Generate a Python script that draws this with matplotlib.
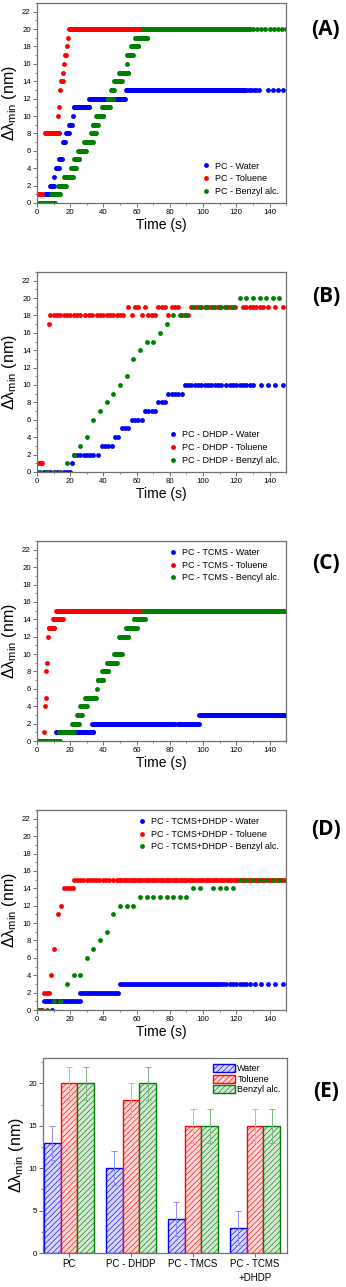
import numpy as np
import matplotlib
matplotlib.use("Agg")
import matplotlib.pyplot as plt
from matplotlib.patches import Patch
from matplotlib.ticker import MultipleLocator

plt.rcParams['font.family'] = ['Liberation Sans', 'DejaVu Sans']
plt.rcParams['mathtext.fontset'] = 'custom'
plt.rcParams['mathtext.rm'] = 'Liberation Sans'
plt.rcParams['hatch.linewidth'] = 0.45

BLUE, RED, GREEN = '#0000ff', '#ff0000', '#008000'

# runs: (t start, t end, sample step, level)
# panel A - PC
water_a = [(0, 4.5, 0.5, 0), (5, 8.5, 0.5, 1), (8, 10, 0.5, 2), (10.5, 10.5, 1, 3),
           (11.5, 13, 0.5, 4), (13.5, 15, 0.5, 5), (15.5, 17, 0.5, 7), (17.5, 19, 0.5, 8),
           (19.5, 21, 0.5, 9), (21.5, 21.5, 1, 10), (22, 31.5, 0.5, 11), (31.5, 53, 0.5, 12),
           (53.5, 126, 0.5, 13), (127.5, 133.5, 1.5, 13), (139, 148, 3, 13)]
toluene_a = [(0.5, 3, 0.5, 1), (5, 13.5, 0.5, 8), (12.8, 12.8, 1, 10), (13.4, 13.4, 1, 11),
             (14, 14, 1, 13), (14.5, 15.5, 0.5, 14), (15.6, 15.6, 1, 15), (16.2, 16.2, 1, 16),
             (16.8, 17.4, 0.5, 17), (18, 18, 1, 18), (18.8, 18.8, 1, 19), (19.5, 64, 0.5, 20)]
benzyl_a = [(0, 11, 0.5, 0), (8.5, 14, 0.5, 1), (12.5, 17.5, 0.5, 2), (16.5, 21.5, 0.5, 3),
            (20.5, 23.5, 0.5, 4), (22.5, 25.5, 0.5, 5), (24.5, 29.5, 0.5, 6), (28.5, 33.5, 0.5, 7),
            (32.5, 35.5, 0.5, 8), (33.5, 36.5, 0.5, 9), (35.5, 40, 0.5, 10), (39, 44, 0.5, 11),
            (42.5, 46, 0.5, 12), (44.5, 46.5, 0.5, 13), (46.5, 51, 0.5, 14), (49.5, 55, 0.5, 15),
            (54, 54, 1, 16), (54, 57.5, 0.5, 17), (56.5, 61, 0.5, 18), (59, 66.5, 0.5, 19),
            (64, 128, 0.5, 20), (130, 149, 2.5, 20)]

# panel B - PC - DHDP
water_b = [(0, 20, 2, 0), (21, 21, 1, 1), (22, 34, 2, 2), (37, 37, 1, 2), (39, 45, 2, 3),
           (47, 49, 2, 4), (51, 55, 2, 5), (57, 63, 2, 6), (65, 71, 2, 7), (73, 77, 2, 8),
           (79, 87, 2, 9), (89, 111, 2, 10), (114, 130, 2, 10), (135, 143, 4, 10), (148, 148, 1, 10)]
toluene_b = [(1, 3, 1, 1), (7, 7, 1, 17), (8, 26, 2, 18), (29, 33, 2, 18), (36, 52, 2, 18),
             (55, 55, 1, 19), (57, 57, 1, 18), (59, 61, 2, 19), (63, 63, 1, 18), (65, 65, 1, 19),
             (67, 71, 2, 18), (73, 77, 2, 19), (79, 79, 1, 18), (81, 85, 2, 19), (87, 91, 2, 18),
             (93, 119, 2, 19), (124, 136, 2, 19), (139, 139, 1, 19), (143.5, 143.5, 1, 19),
             (148, 148, 1, 19)]
benzyl_b = [(2, 14, 4, 0), (18, 18, 1, 1), (22, 22, 1, 2), (26, 26, 1, 3), (30, 30, 1, 4),
            (34, 34, 1, 6), (38, 38, 1, 7), (42, 42, 1, 8), (46, 46, 1, 9), (50, 50, 1, 10),
            (54, 54, 1, 11), (58, 58, 1, 13), (62, 62, 1, 14), (66, 70, 4, 15), (74, 74, 1, 16),
            (78, 78, 1, 17), (82, 90, 4, 18), (94, 118, 4, 19), (122, 146, 4, 20)]

# panel C - PC - TCMS
water_c = [(0, 11, 0.5, 0), (11.5, 34, 0.5, 1), (33, 83, 0.5, 2), (85, 97.5, 0.5, 2),
           (97.5, 150, 0.5, 3)]
toluene_c = [(4, 4, 1, 1), (4.8, 4.8, 1, 4), (5.2, 5.2, 1, 5), (5.6, 5.6, 1, 8), (6.2, 6.2, 1, 9),
             (6.8, 6.8, 1, 12), (7, 10.5, 0.5, 13), (9.5, 15.5, 0.5, 14), (11.5, 64, 0.5, 15)]
benzyl_c = [(0, 14, 0.5, 0), (13, 22, 0.5, 1), (21, 25, 0.5, 2), (24, 27, 0.5, 3), (26, 30, 0.5, 4),
            (29, 35.5, 0.5, 5), (36, 36, 1, 6), (36.5, 40, 0.5, 7), (39, 43, 0.5, 8),
            (42, 48, 0.5, 9), (46.5, 51, 0.5, 10), (49.5, 55, 0.5, 12), (53.5, 60, 0.5, 13),
            (58.5, 65, 0.5, 14), (64, 150, 0.5, 15)]

# panel D - PC - TCMS+DHDP
water_d = [(1, 3, 1, 0), (9, 9, 1, 0), (4, 25, 1.2, 1), (26, 49, 1.2, 2), (50, 110, 1.2, 3),
           (112, 128, 2, 3), (131, 143, 4, 3), (148, 148, 1, 3)]
toluene_d = [(1, 3, 2, 0), (4.4, 7.4, 1.5, 2), (8.4, 8.4, 1, 4), (10.4, 10.4, 1, 7),
             (12.4, 12.4, 1, 11), (14.5, 14.5, 1, 12), (16, 21.4, 1.8, 14), (22.5, 27.5, 1.7, 15),
             (30, 35.5, 1.8, 15), (37.5, 45.5, 2, 15), (48, 94, 1.4, 15), (96, 150, 1.4, 15)]
benzyl_d_t = [1, 6, 10, 14, 18, 22, 26, 30, 34, 38, 42, 46, 50, 54, 58, 62, 66, 70, 74, 78,
              82, 86, 90, 94, 98, 106, 110, 114, 118, 122, 126, 130, 134, 138, 142, 146, 150]
benzyl_d_v = [0, 0, 1, 1, 3, 4, 4, 6, 7, 8, 9, 11, 12, 12, 12, 13, 13, 13, 13, 13,
              13, 13, 13, 14, 14, 14, 14, 14, 14, 15, 15, 15, 15, 15, 15, 15, 15]

# panel E - bars
groups = ['PC', 'PC - DHDP', 'PC - TMCS', 'PC - TCMS\n+DHDP']
bar_water = [13, 10, 4, 3]
bar_toluene = [20, 18, 15, 15]
bar_benzyl = [20, 20, 15, 15]
err_water = [2, 2, 2, 2]
err_toluene = [2, 2, 2, 2]
err_benzyl = [2, 2, 2, 2]


def expand(runs):
    t, v = [], []
    for t0, t1, step, lev in runs:
        tt = np.arange(t0, t1 + step / 2, step)
        t.extend(tt)
        v.extend([lev] * len(tt))
    return np.array(t), np.array(v)


def style(ax, ymax, ymaj, ymin):
    for s in ax.spines.values():
        s.set_color('#707070')
        s.set_linewidth(0.9)
    ax.yaxis.set_major_locator(MultipleLocator(ymaj))
    ax.yaxis.set_minor_locator(MultipleLocator(ymin))
    ax.tick_params(which='major', length=3, width=0.6, labelsize=5.6, pad=1.5, color='#555555')
    ax.tick_params(which='minor', length=1.6, width=0.5, color='#555555')
    ax.set_ylim(0, ymax)
    ax.set_ylabel(r'Δλ$_{\mathrm{min}}$ (nm)', fontsize=11.5, labelpad=2)


fig = plt.figure(figsize=(3.46, 12.87), dpi=100)

panels = [
    ('(A)', [0.107, 0.8423, 0.72, 0.1554], 'PC', water_a, toluene_a, benzyl_a, 'lower right', 'Benzyl alc.'),
    ('(B)', [0.107, 0.6333, 0.72, 0.1554], 'PC - DHDP', water_b, toluene_b, benzyl_b, 'lower right', 'Benzyl alc.'),
    ('(C)', [0.107, 0.4242, 0.72, 0.1554], 'PC - TCMS', water_c, toluene_c, benzyl_c, 'upper right', 'Bencyl alc.'),
    ('(D)', [0.107, 0.2152, 0.72, 0.1554], 'PC - TCMS+DHDP', water_d, toluene_d, None, 'upper right', 'Benzyl alc.'),
]
tag_y = [0.9767, 0.7695, 0.5625, 0.3551]

for i, (tag, rect, name, w, tl, bz, loc, bzname) in enumerate(panels):
    ax = fig.add_axes(rect)
    tw, vw = expand(w)
    tt, vt = expand(tl)
    if bz is None:
        tb, vb = np.array(benzyl_d_t), np.array(benzyl_d_v)
    else:
        tb, vb = expand(bz)
    kw = dict(ls='none', marker='o', ms=3.5, mew=0, clip_on=True)
    ax.plot(tw, vw, color=BLUE, label=name + ' - Water', **kw)
    ax.plot(tt, vt, color=RED, label=name + ' - Toluene', **kw)
    ax.plot(tb, vb, color=GREEN, label=name + ' - ' + bzname, **kw)
    ax.set_xlim(0, 150)
    ax.xaxis.set_major_locator(MultipleLocator(20))
    ax.xaxis.set_minor_locator(MultipleLocator(10))
    style(ax, 23, 2, 1)
    ax.set_xlabel('Time (s)', fontsize=10, labelpad=1)
    ax.legend(loc=loc, frameon=False, fontsize=6.5, handletextpad=0.4, labelspacing=0.4,
              borderaxespad=0.4, handlelength=1.2, markerscale=1.0)
    fig.text(0.942, tag_y[i], tag, fontsize=15, fontweight='bold', family='Open Sans',
             ha='center', va='center')

# panel E
ax = fig.add_axes([0.125, 0.0264, 0.705, 0.1515])
x = np.arange(1, len(groups) + 1)
bw = 0.27
series = [
    (bar_water, err_water, 'Water', BLUE, '#d8d8ff', '#8c8cff'),
    (bar_toluene, err_toluene, 'Toluene', RED, '#ffd8d8', '#ff9a9a'),
    (bar_benzyl, err_benzyl, 'Benzyl alc.', GREEN, '#d6e8d6', '#80b880'),
]
handles = []
for k, (vals, errs, lab, col, face, ecol) in enumerate(series):
    pos = x + (k - 1) * bw
    ax.bar(pos, vals, bw, color=face, edgecolor=col, hatch='//////', linewidth=1.0, zorder=2)
    ax.errorbar(pos, vals, yerr=errs, fmt='none', ecolor=ecol, elinewidth=0.7, capsize=2,
                capthick=0.7, zorder=3)
    handles.append(Patch(facecolor=face, edgecolor=col, hatch='//////', linewidth=1.0, label=lab))
style(ax, 23, 5, 2.5)
ax.set_xlim(0.586, 4.52)
ax.set_xticks(x)
ax.set_xticklabels(groups, fontsize=7, linespacing=1.5)
ax.tick_params(axis='x', which='minor', bottom=False)
ax.legend(handles=handles, loc='upper right', frameon=False, fontsize=6.5, handlelength=2.4,
          handleheight=1.0, handletextpad=0.3, labelspacing=0.15, borderaxespad=0.3)
fig.text(0.942, 0.1518, '(E)', fontsize=15, fontweight='bold', family='Open Sans',
         ha='center', va='center')

fig.savefig('out.png', dpi=100)
